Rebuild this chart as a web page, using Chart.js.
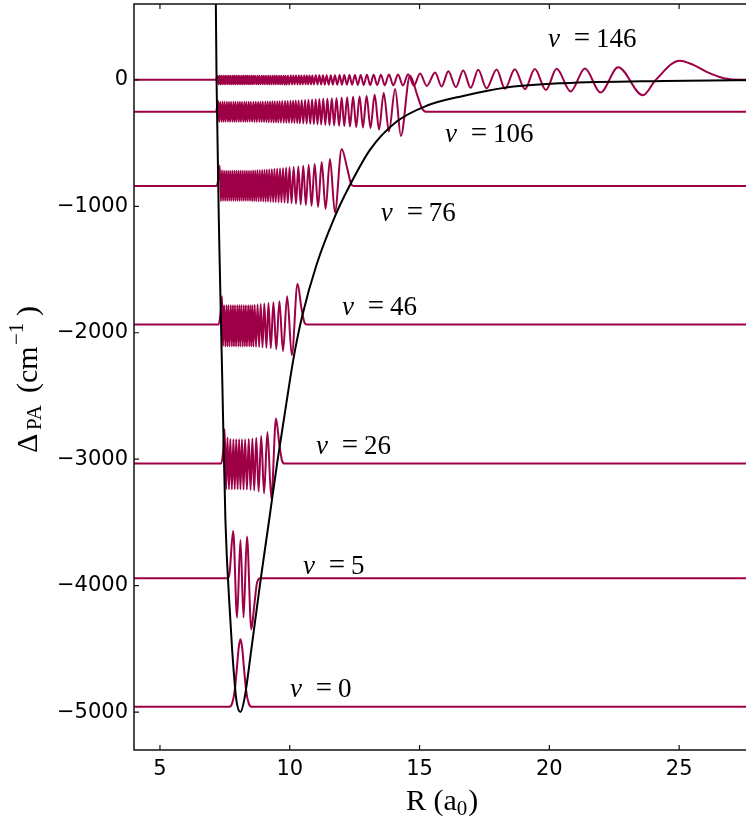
<!DOCTYPE html>
<html>
<head>
<meta charset="utf-8">
<script src="https://cdn.jsdelivr.net/npm/chart.js@4.4.1/dist/chart.umd.min.js"></script>
<style>
  html, body { margin: 0; padding: 0; background: #fff; overflow: hidden; width: 746px; height: 824px; }
  canvas { display: block; }
</style>
</head>
<body>
<canvas id="chart" width="780" height="824"></canvas>
<script>
// tick values
const xTicks = [5, 10, 15, 20, 25];
const yTicks = [0, -1000, -2000, -3000, -4000, -5000];

// potential curve (R in a0, energy in cm^-1)
const potR = [7.14, 7.18, 7.29, 7.40, 7.52, 7.71, 7.78, 7.94, 8.10, 8.25, 8.52, 8.88, 9.21, 9.53, 10.01, 10.21, 10.48,
  11.02, 11.75, 12.37, 13.11, 14.12, 15.27, 16.68, 18.35, 20.53, 24.4, 28.5];
const potV = [900, 0, -1340, -2370, -3475, -4267, -4505, -4900, -5000, -4900, -4505, -3950, -3475, -3010, -2370, -2130, -1867,
  -1470, -1076, -812, -548, -330, -205, -127, -60, -26, -8, -1];

// vibrational levels
const levelNames = ['0', '5', '26', '46', '76', '106', '146'];
const levelE = [-4957, -3942, -3035, -1935, -840, -253, 0];

// wavefunctions: R of each read point, and offset from the level energy
const x0 = [7.68, 7.78, 7.88, 7.97, 8.03, 8.10, 8.17, 8.23, 8.32, 8.42, 8.52];
const d0 = [0, 26, 127, 320, 460, 532, 460, 320, 127, 26, 0];

const x5 = [7.60, 7.68, 7.82, 7.97, 8.10, 8.22, 8.35, 8.52, 8.64, 8.74, 8.87];
const d5 = [0, 40, 374, -311, 302, -311, 330, -404, -200, -35, 0];

const x26 = [7.36, 7.43,
  7.49, 7.55, 7.60, 7.66, 7.71, 7.77, 7.83, 7.88, 7.94, 7.99,
  8.05, 8.10, 8.16, 8.22, 8.28, 8.35, 8.42, 8.49, 8.56, 8.63,
  8.71, 8.80, 8.90, 9.01, 9.14, 9.29, 9.47,
  9.60, 9.70, 9.80];
const d26 = [0, 90,
  271, -203, 206, -203, 195, -203, 192, -203, 192, -203,
  192, -203, 192, -205, 192, -205, 195, -208, 198, -212,
  205, -220, 218, -235, 250, -277, 356,
  150, 25, 0];

const x46 = [7.26, 7.33,
  7.39, 7.43, 7.47, 7.52, 7.56, 7.60, 7.64, 7.68, 7.73, 7.77,
  7.81, 7.85, 7.89, 7.93, 7.98, 8.02, 8.06, 8.10, 8.14, 8.19,
  8.23, 8.27, 8.31, 8.35, 8.40, 8.44, 8.48, 8.52, 8.56, 8.60,
  8.65, 8.70, 8.76, 8.82, 8.88, 8.95, 9.02, 9.10, 9.18, 9.27,
  9.37, 9.48, 9.60, 9.74, 9.90, 10.08, 10.30,
  10.45, 10.56, 10.66];
const d46 = [0, 80,
  224, -170, 153, -174, 153, -174, 153, -174, 153, -174,
  153, -174, 153, -174, 153, -174, 153, -174, 153, -174,
  153, -174, 153, -174, 153, -174, 153, -174, 153, -174,
  155, -176, 158, -178, 162, -180, 166, -183, 170, -188,
  176, -195, 184, -210, 224, -242, 322,
  130, 20, 0];

const x76 = [7.18, 7.25,
  7.30, 7.35, 7.39, 7.43, 7.47, 7.51, 7.55, 7.59, 7.63, 7.67,
  7.71, 7.75, 7.79, 7.83, 7.87, 7.91, 7.95, 7.99, 8.03, 8.07,
  8.11, 8.15, 8.19, 8.23, 8.27, 8.31, 8.35, 8.39, 8.43, 8.47,
  8.51, 8.55, 8.59, 8.63, 8.67, 8.71, 8.755, 8.80, 8.845, 8.89,
  8.935, 8.98, 9.025, 9.07, 9.115, 9.16, 9.21, 9.26, 9.31, 9.36,
  9.41, 9.46, 9.515, 9.57, 9.625, 9.68, 9.74, 9.80, 9.86, 9.925,
  9.99, 10.07, 10.15, 10.24, 10.33, 10.42, 10.52, 10.62, 10.73, 10.84,
  10.96, 11.09, 11.23, 11.38, 11.55, 11.74, 12.00,
  12.22, 12.36, 12.46];
const d76 = [0, 60,
  160, -118, 125, -116, 122, -116, 121, -116, 121, -116,
  121, -116, 121, -116, 121, -116, 121, -116, 121, -116,
  121, -116, 121, -116, 121, -116, 121, -117, 122, -117,
  122, -118, 123, -118, 124, -119, 125, -119, 126, -120,
  127, -121, 128, -122, 129, -123, 131, -124, 133, -125,
  135, -126, 137, -127, 139, -128, 141, -130, 144, -133,
  148, -136, 151, -140, 155, -145, 160, -150, 166, -156,
  175, -165, 190, -182, 214, -208, 293,
  134, 20, 0];

const x106 = [7.16,
  7.24, 7.28, 7.32, 7.37, 7.41, 7.45, 7.49, 7.53, 7.58, 7.62,
  7.66, 7.70, 7.74, 7.79, 7.83, 7.87, 7.91, 7.95, 8.00, 8.04,
  8.08, 8.12, 8.16, 8.21, 8.25, 8.29, 8.33, 8.37, 8.42, 8.46,
  8.50, 8.55, 8.60, 8.64, 8.69, 8.73, 8.78, 8.83, 8.87, 8.92,
  8.96, 9.01, 9.06, 9.10, 9.15, 9.19, 9.24, 9.29, 9.33, 9.38,
  9.42, 9.47, 9.52, 9.56, 9.61, 9.66, 9.71, 9.77, 9.82, 9.87,
  9.92, 9.97, 10.03, 10.08, 10.13, 10.18, 10.23, 10.29, 10.34, 10.39,
  10.46, 10.52, 10.59, 10.65, 10.72, 10.79, 10.86, 10.93, 11.00, 11.07,
  11.14, 11.21, 11.29, 11.37, 11.45, 11.53, 11.62, 11.71, 11.80, 11.90,
  12.00, 12.10, 12.21, 12.32, 12.44, 12.56, 12.69, 12.82, 12.96, 13.11,
  13.27, 13.44, 13.62, 13.82, 14.06, 14.28, 14.63,
  14.92, 15.10, 15.28];
const d106 = [0,
  87, -80, 80, -79, 79, -79, 79, -79, 79, -79,
  79, -79, 79, -79, 79, -79, 79, -79, 79, -79,
  79, -79, 79, -79, 79, -79, 79, -79, 79, -79,
  79, -79, 80, -80, 80, -80, 80, -80, 80, -80,
  81, -81, 81, -81, 82, -82, 82, -82, 83, -83,
  83, -83, 84, -84, 84, -84, 85, -85, 86, -86,
  86, -86, 87, -87, 88, -88, 89, -89, 90, -90,
  91, -91, 93, -93, 95, -95, 97, -97, 99, -99,
  101, -101, 103, -103, 105, -105, 107, -107, 110, -110,
  113, -113, 116, -116, 119, -119, 122, -123, 126, -128,
  135, -140, 150, -155, 180, -190, 285,
  127, 25, 0];

const x146 = [7.15,
  7.22, 7.26, 7.29, 7.33, 7.36, 7.40, 7.44, 7.47, 7.51, 7.54,
  7.58, 7.62, 7.65, 7.69, 7.72, 7.76, 7.80, 7.83, 7.87, 7.90,
  7.94, 7.98, 8.01, 8.05, 8.08, 8.12, 8.16, 8.19, 8.23, 8.26,
  8.30, 8.34, 8.37, 8.41, 8.44, 8.48, 8.52, 8.55, 8.59, 8.62,
  8.66, 8.71, 8.75, 8.79, 8.83, 8.87, 8.92, 8.96, 9.00, 9.04,
  9.08, 9.13, 9.17, 9.21, 9.25, 9.29, 9.34, 9.38, 9.42, 9.46,
  9.50, 9.55, 9.59, 9.63, 9.67, 9.71, 9.76, 9.80, 9.84, 9.88,
  9.93, 9.98, 10.04, 10.09, 10.14, 10.19, 10.24, 10.30, 10.35, 10.40,
  10.45, 10.50, 10.56, 10.61, 10.66, 10.71, 10.76, 10.82, 10.87, 10.93,
  11.00, 11.07, 11.14, 11.21, 11.28, 11.35, 11.42, 11.50, 11.58, 11.66,
  11.74, 11.83, 11.92, 12.01, 12.10, 12.20, 12.30, 12.40, 12.51, 12.62,
  12.73, 12.85, 12.97, 13.10, 13.23, 13.37, 13.51, 13.66, 13.82, 13.99,
  14.17, 14.36, 14.56, 14.78,
  15.02, 15.28, 15.60, 15.85, 16.11, 16.40, 16.68, 16.97, 17.26, 17.58,
  17.97, 18.29, 18.67, 19.06, 19.44, 19.87, 20.28, 20.82, 21.37, 21.97,
  22.65, 23.60, 24.10, 25.02,
  25.55, 26.08, 26.72, 27.36];
const d146 = [0,
  30, -35, 32, -35, 32, -35, 32, -35, 32, -35,
  32, -35, 32, -35, 32, -35, 32, -35, 32, -35,
  32, -35, 32, -35, 32, -35, 32, -35, 32, -35,
  32, -35, 32, -35, 32, -35, 32, -35, 32, -35,
  32, -35, 32, -35, 32, -35, 32, -35, 32, -35,
  32, -35, 32, -35, 32, -35, 32, -35, 32, -35,
  32, -35, 33, -35, 33, -35, 33, -36, 33, -36,
  33, -36, 34, -36, 34, -36, 34, -36, 34, -36,
  34, -36, 35, -37, 35, -37, 35, -37, 35, -37,
  36, -37, 36, -37, 36, -38, 37, -38, 37, -38,
  37, -38, 38, -39, 38, -39, 38, -39, 39, -40,
  39, -40, 40, -41, 40, -41, 41, -42, 42, -43,
  43, -44, 45, -46,
  50, -48, 58, -52, 68, -58, 75, -63, 80, -67,
  82, -70, 84, -73, 85, -80, 87, -92, 90, -100,
  100, -122, 0, 152,
  118, 61, 13, 0];

const waveX = [x0, x5, x26, x46, x76, x106, x146];
const waveD = [d0, d5, d26, d46, d76, d106, d146];

const X_MIN = 4, X_MAX = 28.5;
const waveColor = '#9e0047';

function levelPoints(E, xs, ds) {
  const pts = [{ x: X_MIN, y: E }];
  xs.forEach((r, i) => pts.push({ x: r, y: E + ds[i] }));
  pts.push({ x: X_MAX, y: E });
  return pts;
}

const datasets = [{
  label: 'potential',
  data: potR.map((r, i) => ({ x: r, y: potV[i] })),
  borderColor: '#000',
  borderWidth: 2,
  cubicInterpolationMode: 'monotone',
  pointRadius: 0
}];
levelE.forEach((E, i) => {
  datasets.push({
    label: 'v=' + levelNames[i],
    data: levelPoints(E, waveX[i], waveD[i]),
    borderColor: waveColor,
    borderWidth: 2,
    cubicInterpolationMode: 'monotone',
    pointRadius: 0
  });
});

function fmtTick(v) {
  return v < 0 ? '\u2212' + Math.abs(v) : String(v);
}

// frame, inward ticks, level labels and axis titles
const decor = {
  id: 'decor',
  afterDraw(chart) {
    const { ctx, chartArea: a, scales: { x, y } } = chart;
    ctx.save();
    ctx.strokeStyle = '#111';
    ctx.lineWidth = 1.5;
    ctx.strokeRect(a.left, a.top, a.right - a.left, a.bottom - a.top);

    ctx.lineWidth = 1.2;
    ctx.beginPath();
    xTicks.forEach(v => {
      const px = x.getPixelForValue(v);
      ctx.moveTo(px, a.bottom); ctx.lineTo(px, a.bottom - 5);
      ctx.moveTo(px, a.top); ctx.lineTo(px, a.top + 5);
    });
    yTicks.forEach(v => {
      const py = y.getPixelForValue(v);
      ctx.moveTo(a.left, py); ctx.lineTo(a.left + 5, py);
      ctx.moveTo(a.right, py); ctx.lineTo(a.right - 5, py);
    });
    ctx.stroke();

    // v = n labels (anchor in data units)
    const labelAt = [[10.01, -4882], [10.51, -3910], [11.01, -2960], [12.01, -1861],
      [13.51, -1118], [15.98, -493], [19.95, 259]];
    ctx.fillStyle = '#000';
    ctx.textBaseline = 'alphabetic';
    levelNames.forEach((n, i) => {
      const px = x.getPixelForValue(labelAt[i][0]);
      const py = y.getPixelForValue(labelAt[i][1]);
      ctx.textAlign = 'left';
      ctx.font = 'italic 27px "Liberation Serif"';
      ctx.fillText('v', px, py);
      ctx.textAlign = 'center';
      ctx.font = '29px "Liberation Serif"';
      ctx.fillText('=', px + 34, py);
      ctx.textAlign = 'left';
      ctx.font = '27px "Liberation Serif"';
      ctx.fillText(n, px + 48, py);
    });

    // x title: R (a0)
    ctx.textAlign = 'left';
    ctx.font = '30px "Liberation Serif"';
    let tx = 406;
    const ty = 810;
    ctx.fillText('R (a', tx, ty);
    tx += ctx.measureText('R (a').width;
    ctx.font = '21px "Liberation Serif"';
    ctx.fillText('0', tx, ty + 5);
    tx += ctx.measureText('0').width + 1;
    ctx.font = '30px "Liberation Serif"';
    ctx.fillText(')', tx, ty);

    // y title: Delta_PA (cm^-1)
    ctx.translate(37, 453);
    ctx.rotate(-Math.PI / 2);
    ctx.font = '30px "Liberation Serif"';
    ctx.fillText('\u0394', 0, 0);
    ctx.font = '21px "Liberation Serif"';
    ctx.fillText('PA', 23, 4);
    ctx.font = '30px "Liberation Serif"';
    ctx.fillText('(cm', 60, 0);
    ctx.font = '21px "Liberation Serif"';
    ctx.fillText('\u22121', 108, -14);
    ctx.font = '30px "Liberation Serif"';
    ctx.fillText(')', 137, 0);
    ctx.restore();
  }
};

new Chart(document.getElementById('chart').getContext('2d'), {
  type: 'line',
  data: { datasets: datasets },
  options: {
    responsive: false,
    animation: false,
    devicePixelRatio: 1,
    layout: { padding: { top: 4, right: 10, left: 0, bottom: 0 } },
    plugins: { legend: { display: false }, tooltip: { enabled: false } },
    scales: {
      x: {
        type: 'linear',
        min: X_MIN,
        max: X_MAX,
        grid: { display: false, drawTicks: false },
        border: { display: false },
        afterBuildTicks: s => { s.ticks = xTicks.map(v => ({ value: v })); },
        afterFit: s => { s.height = 74; s.paddingLeft = 0; s.paddingRight = 0; },
        ticks: { font: { family: 'DejaVu Sans', size: 21 }, color: '#000', padding: 7, maxRotation: 0 }
      },
      y: {
        type: 'linear',
        min: -5300,
        max: 600,
        grid: { display: false, drawTicks: false },
        border: { display: false },
        afterBuildTicks: s => { s.ticks = yTicks.map(v => ({ value: v })); },
        afterFit: s => { s.width = 134; s.paddingTop = 0; s.paddingBottom = 0; },
        ticks: { font: { family: 'DejaVu Sans', size: 21 }, color: '#000', padding: 6, callback: v => fmtTick(v) }
      }
    }
  },
  plugins: [decor]
});
</script>
</body>
</html>
